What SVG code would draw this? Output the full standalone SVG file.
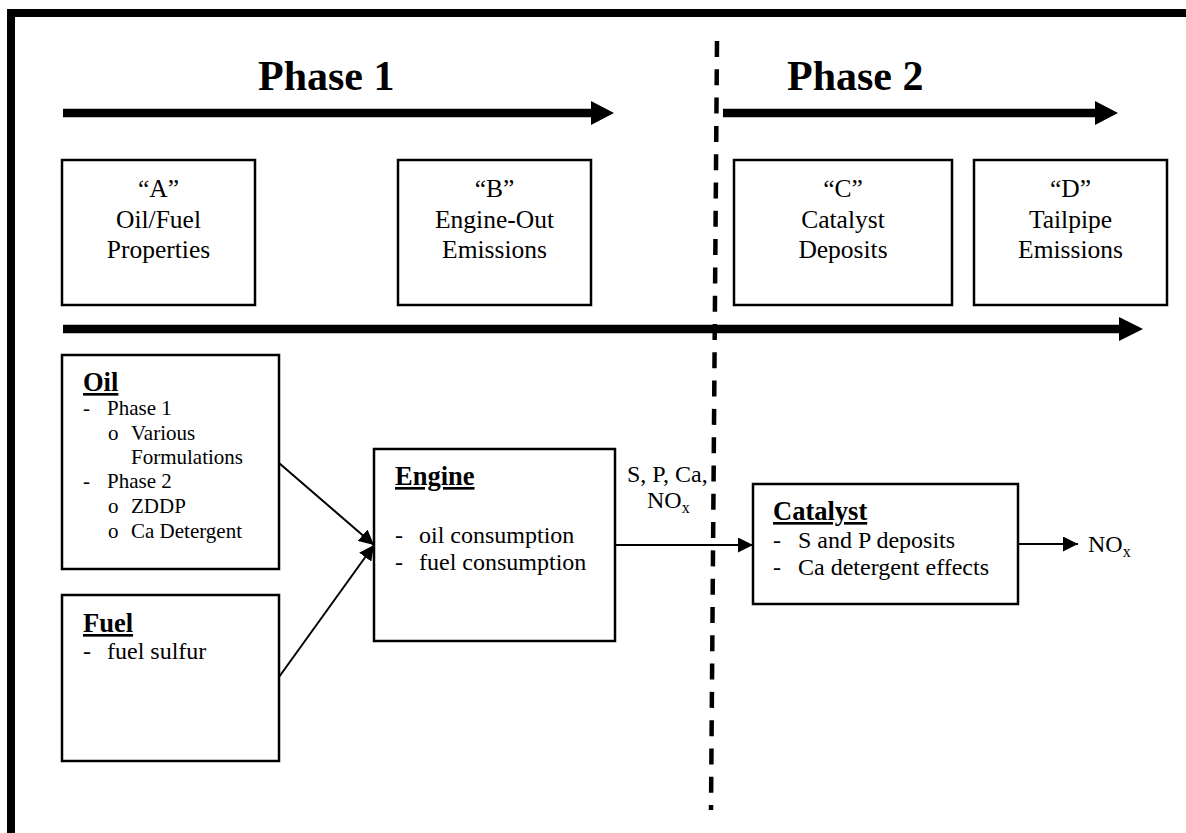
<svg xmlns="http://www.w3.org/2000/svg" width="1186" height="833" viewBox="0 0 1186 833">
<style>
text{font-family:"Liberation Serif","Times New Roman",serif;fill:#000}
.box{fill:#fff;stroke:#000;stroke-width:2.5}
.t{font-size:25.5px;text-anchor:middle}
.h{font-size:26.5px;font-weight:bold;text-decoration:underline}
.big{font-size:42px;font-weight:bold}
.l21{font-size:21px}
.l24{font-size:24px}
.thick{stroke:#000;stroke-width:8.5;fill:none}
.thin{stroke:#000;stroke-width:2;fill:none}
</style>
<defs>
<marker id="ah" markerWidth="15" markerHeight="15" refX="15" refY="7.5" orient="auto" markerUnits="userSpaceOnUse">
<path d="M0,0 L15,7.5 L0,15 Z" fill="#000"/>
</marker>
</defs>
<rect width="1186" height="833" fill="#fff"/>
<rect x="11" y="13" width="1200" height="850" fill="none" stroke="#000" stroke-width="8"/>

<g id="titles">
<text class="big" x="258" y="90">Phase 1</text>
<text class="big" x="787" y="90">Phase 2</text>
</g>

<g id="connectors">
<line class="thick" x1="63" y1="113" x2="592" y2="113"/>
<path d="M591,101 L614,113 L591,125 Z" fill="#000"/>
<line class="thick" x1="723" y1="113" x2="1096" y2="113"/>
<path d="M1095,101 L1118,113 L1095,125 Z" fill="#000"/>
<line class="thick" x1="63" y1="329" x2="1120" y2="329"/>
<path d="M1119,317 L1143,329 L1119,341 Z" fill="#000"/>
<line x1="717" y1="41" x2="711" y2="810" stroke="#000" stroke-width="4.5" stroke-dasharray="16 12.3"/>
<line class="thin" x1="279" y1="463" x2="374" y2="545" marker-end="url(#ah)"/>
<line class="thin" x1="279" y1="677" x2="374" y2="545" marker-end="url(#ah)"/>
<line class="thin" x1="615" y1="545" x2="753" y2="545" marker-end="url(#ah)"/>
<line class="thin" x1="1018" y1="544" x2="1078" y2="544" marker-end="url(#ah)"/>
</g>

<g id="nodeA">
<rect class="box" x="62" y="160" width="193" height="145"/>
<text class="t" x="158.5" y="197">“A”</text>
<text class="t" x="158.5" y="228">Oil/Fuel</text>
<text class="t" x="158.5" y="258">Properties</text>
</g>
<g id="nodeB">
<rect class="box" x="398" y="160" width="193" height="145"/>
<text class="t" x="494.5" y="197">“B”</text>
<text class="t" x="494.5" y="228">Engine-Out</text>
<text class="t" x="494.5" y="258">Emissions</text>
</g>
<g id="nodeC">
<rect class="box" x="734" y="160" width="218" height="145"/>
<text class="t" x="843" y="197">“C”</text>
<text class="t" x="843" y="228">Catalyst</text>
<text class="t" x="843" y="258">Deposits</text>
</g>
<g id="nodeD">
<rect class="box" x="974" y="160" width="193" height="145"/>
<text class="t" x="1070.5" y="197">“D”</text>
<text class="t" x="1070.5" y="228">Tailpipe</text>
<text class="t" x="1070.5" y="258">Emissions</text>
</g>

<g id="oil">
<rect class="box" x="62" y="355" width="217" height="214"/>
<text class="h" x="83" y="391">Oil</text>
<text class="l21" x="83" y="415">-</text><text class="l21" x="107" y="415">Phase 1</text>
<text class="l21" x="108" y="440">o</text><text class="l21" x="131" y="440">Various</text>
<text class="l21" x="131" y="464">Formulations</text>
<text class="l21" x="83" y="488">-</text><text class="l21" x="107" y="488">Phase 2</text>
<text class="l21" x="108" y="513">o</text><text class="l21" x="131" y="513">ZDDP</text>
<text class="l21" x="108" y="538">o</text><text class="l21" x="131" y="538">Ca Detergent</text>
</g>

<g id="fuel">
<rect class="box" x="62" y="595" width="217" height="166"/>
<text class="h" x="83" y="632">Fuel</text>
<text class="l24" x="83" y="659">-</text><text class="l24" x="107" y="659">fuel sulfur</text>
</g>

<g id="engine">
<rect class="box" x="374" y="449" width="241" height="192"/>
<text class="h" x="395" y="485">Engine</text>
<text class="l24" x="395" y="543">-</text><text class="l24" x="419" y="543">oil consumption</text>
<text class="l24" x="395" y="570">-</text><text class="l24" x="419" y="570">fuel consumption</text>
</g>

<g id="label-engine-out">
<text class="l24" x="627" y="482">S, P, Ca,</text>
<text class="l24" x="647" y="508">NO<tspan font-size="16" dy="5">x</tspan></text>
</g>

<g id="catalyst">
<rect class="box" x="753" y="484" width="265" height="120"/>
<text class="h" x="773" y="520">Catalyst</text>
<text class="l24" x="773" y="548">-</text><text class="l24" x="798" y="548">S and P deposits</text>
<text class="l24" x="773" y="575">-</text><text class="l24" x="798" y="575">Ca detergent effects</text>
</g>

<g id="nox-out">
<text class="l24" x="1088" y="552">NO<tspan font-size="16" dy="5">x</tspan></text>
</g>
</svg>
